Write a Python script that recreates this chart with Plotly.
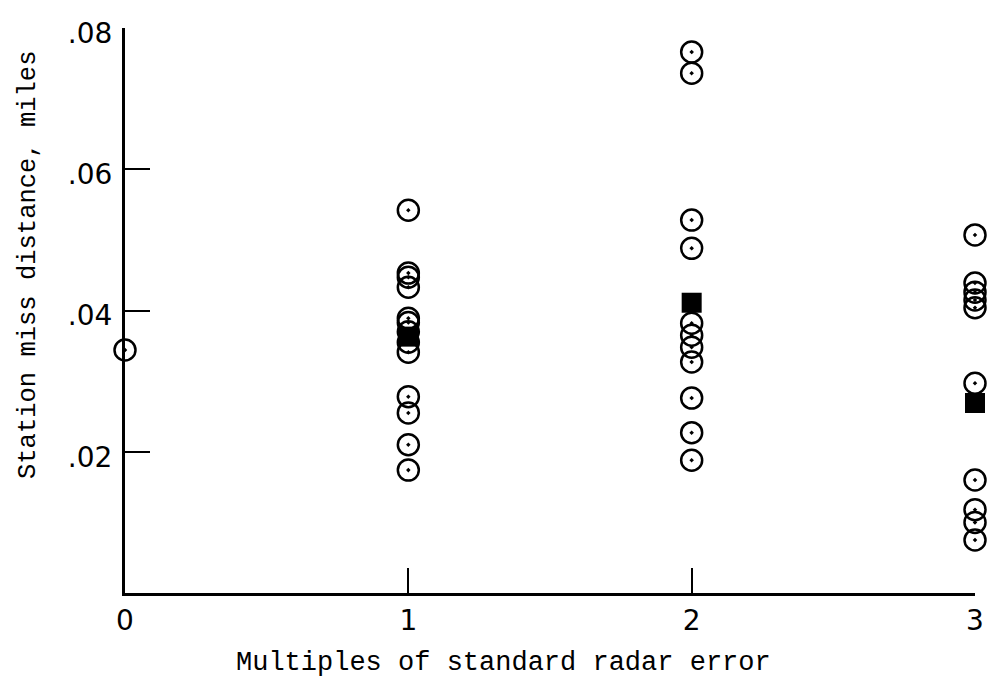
import plotly.graph_objects as go

# Station miss distance (miles) for each multiple of the standard radar error
multiples = [0, 1, 2, 3]
miss_0 = [0.0344]
miss_1 = [0.0542, 0.0453, 0.0447, 0.0433, 0.0389, 0.0383, 0.0370, 0.0355,
          0.0341, 0.0278, 0.0255, 0.0210, 0.0174]
miss_2 = [0.0766, 0.0736, 0.0528, 0.0488, 0.0382, 0.0365, 0.0348, 0.0327,
          0.0276, 0.0227, 0.0188]
miss_3 = [0.0507, 0.0439, 0.0426, 0.0415, 0.0404, 0.0297, 0.0160, 0.0118,
          0.0100, 0.0075]

# Mean values plotted as solid squares
mean_x = [1, 2, 3]
mean_y = [0.0363, 0.0411, 0.0269]

x_ticks = [0, 1, 2, 3]
x_labels = ["0", "1", "2", "3"]
y_ticks = [0.02, 0.04, 0.06, 0.08]
y_labels = [".02", ".04", ".06", ".08"]

fig = go.Figure()

for xv, ys in zip(multiples, [miss_0, miss_1, miss_2, miss_3]):
    fig.add_trace(go.Scatter(
        x=[xv] * len(ys), y=ys, mode="markers",
        marker=dict(symbol="circle-open-dot", size=21, color="black",
                    line=dict(width=2.5, color="black")),
        cliponaxis=False, showlegend=False, hoverinfo="y",
    ))

fig.add_trace(go.Scatter(
    x=mean_x, y=mean_y, mode="markers",
    marker=dict(symbol="square", size=20, color="black",
                line=dict(width=0)),
    cliponaxis=False, showlegend=False, hoverinfo="y",
))

tick_font = dict(family="DejaVu Sans", size=28, color="black")
xtitle_font = dict(family="Liberation Mono", size=27, color="black")
ytitle_font = dict(family="Liberation Mono", size=25.5, color="black")

ml, mr, mt, mb = 125, 15, 28, 88
pw = 990 - ml - mr
ph = 681 - mt - mb

fig.update_layout(
    width=990, height=681,
    margin=dict(l=ml, r=mr, t=mt, b=mb, autoexpand=False),
    plot_bgcolor="white", paper_bgcolor="white",
    xaxis=dict(
        range=[0, 3], tickvals=x_ticks, ticktext=x_labels,
        showline=True, linecolor="black", linewidth=3,
        ticks="inside", ticklen=25, tickwidth=2, tickcolor="black",
        showgrid=False, zeroline=False, tickfont=tick_font,
        automargin=False,
    ),
    yaxis=dict(
        range=[0, 0.08], tickvals=y_ticks, ticktext=y_labels,
        showline=True, linecolor="black", linewidth=3,
        ticks="inside", ticklen=25, tickwidth=2, tickcolor="black",
        showgrid=False, zeroline=False, tickfont=tick_font,
        ticklabelshift=5, ticklabelstandoff=4, automargin=False,
    ),
    annotations=[
        dict(text="Multiples of standard radar error", font=xtitle_font,
             xref="paper", yref="paper",
             x=(503 - ml) / pw, y=-(663 - 593) / ph,
             xanchor="center", yanchor="middle", showarrow=False),
        dict(text="Station miss distance, miles", font=ytitle_font,
             textangle=-90, xref="paper", yref="paper",
             x=-(ml - 28) / pw, y=(593 - 265) / ph,
             xanchor="center", yanchor="middle", showarrow=False),
    ],
)

fig.write_html("out.html")
